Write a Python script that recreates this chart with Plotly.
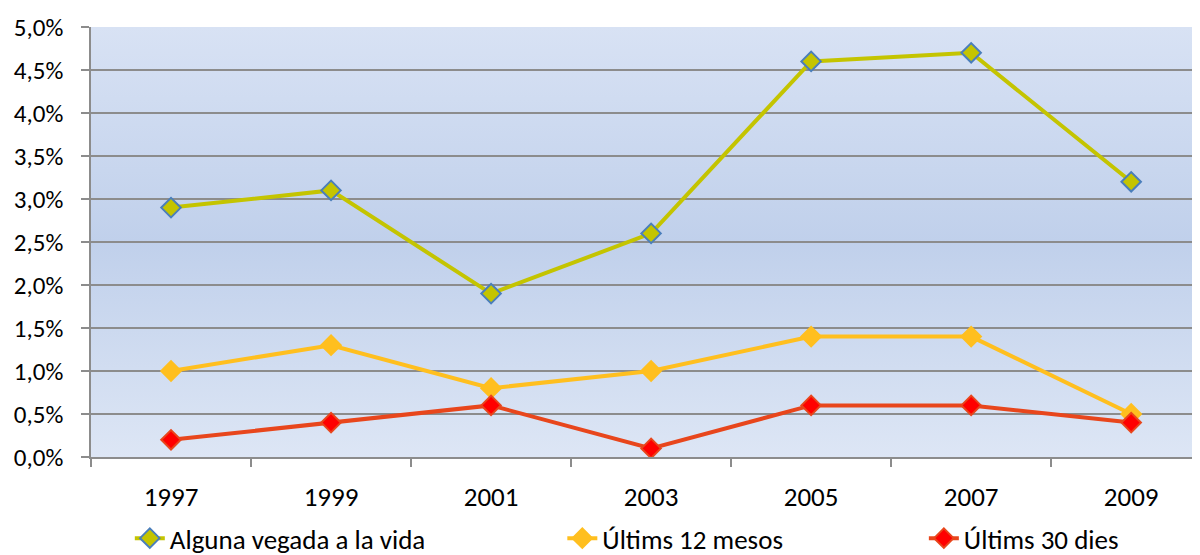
"""Consum alguna vegada / 12 mesos / 30 dies — gràfic de línies per any"""

import base64

import plotly.graph_objects as go

years = ["1997", "1999", "2001", "2003", "2005", "2007", "2009"]
vida = [2.9, 3.1, 1.9, 2.6, 4.6, 4.7, 3.2]
mesos12 = [1.0, 1.3, 0.8, 1.0, 1.4, 1.4, 0.5]
dies30 = [0.2, 0.4, 0.6, 0.1, 0.6, 0.6, 0.4]

FONT = "Carlito, 'Open Sans', sans-serif"
GRID = "#8c8c8c"

# fons degradat (clar-fosc-clar) com el de l'Excel
svg = (
    '<svg xmlns="http://www.w3.org/2000/svg" width="10" height="100" '
    'preserveAspectRatio="none">'
    '<defs><linearGradient id="g" x1="0" y1="0" x2="0" y2="1">'
    '<stop offset="0" stop-color="#d8e2f4"/>'
    '<stop offset="0.5" stop-color="#c0d0eb"/>'
    '<stop offset="1" stop-color="#dde6f5"/>'
    '</linearGradient></defs>'
    '<rect width="10" height="100" fill="url(#g)"/></svg>'
)
bg_src = "data:image/svg+xml;base64," + base64.b64encode(svg.encode()).decode()

series = [
    ("Alguna vegada a la vida", vida, "#c4c400", "#c4c400", "#4a7ebb", "legend"),
    ("Últims 12 mesos", mesos12, "#ffbf1f", "#ffbf1f", "#ffbf1f", "legend2"),
    ("Últims 30 dies", dies30, "#e8461c", "#ff0000", "#e8461c", "legend3"),
]

fig = go.Figure()
for name, vals, line_c, fill_c, edge_c, leg in series:
    fig.add_trace(go.Scatter(
        x=years,
        y=[v / 100 for v in vals],
        name=name,
        mode="lines+markers",
        line=dict(color=line_c, width=4),
        marker=dict(symbol="diamond", size=15, color=fill_c,
                    line=dict(color=edge_c, width=2)),
        legend=leg,
    ))

# llegenda referida al contenidor perquè no empenyi el marge inferior
legend_base = dict(
    orientation="h", yref="container", yanchor="middle", y=0.03,
    xanchor="left",
    font=dict(family=FONT, size=27, color="#000000"),
    bgcolor="rgba(0,0,0,0)", itemwidth=30,
)

# la pàgina té 8 px de marge al body: la figura fa 1192x547
fig.update_layout(
    width=1192, height=547,
    margin=dict(l=83, r=0, t=19, b=98),
    paper_bgcolor="white",
    plot_bgcolor="rgba(0,0,0,0)",
    separators=",.",
    font=dict(family=FONT, size=26, color="#000000"),
    showlegend=True,
    legend=dict(legend_base, x=0.035),
    legend2=dict(legend_base, x=0.425),
    legend3=dict(legend_base, x=0.751),
    images=[dict(source=bg_src, xref="paper", yref="paper", x=0, y=1,
                 sizex=1, sizey=1, sizing="stretch", layer="below")],
    xaxis=dict(
        type="category",
        range=[-0.5, 6.43],
        automargin=False,
        tickson="boundaries",
        ticks="outside", ticklen=8, tickcolor=GRID, tickwidth=1.5,
        showgrid=False,
        showline=True, linecolor=GRID, linewidth=1.5,
        ticklabelstandoff=15,
        tickfont=dict(family=FONT, size=27),
    ),
    yaxis=dict(
        range=[0, 0.05],
        dtick=0.005,
        tickformat=".1%",
        automargin=False,
        ticks="outside", ticklen=8, tickcolor=GRID, tickwidth=1.5,
        showgrid=True, gridcolor=GRID, gridwidth=1.5,
        showline=True, linecolor=GRID, linewidth=1.5,
        zeroline=False,
        ticklabelstandoff=13,
        tickfont=dict(family=FONT, size=25),
    ),
)

fig.write_html("out.html")
